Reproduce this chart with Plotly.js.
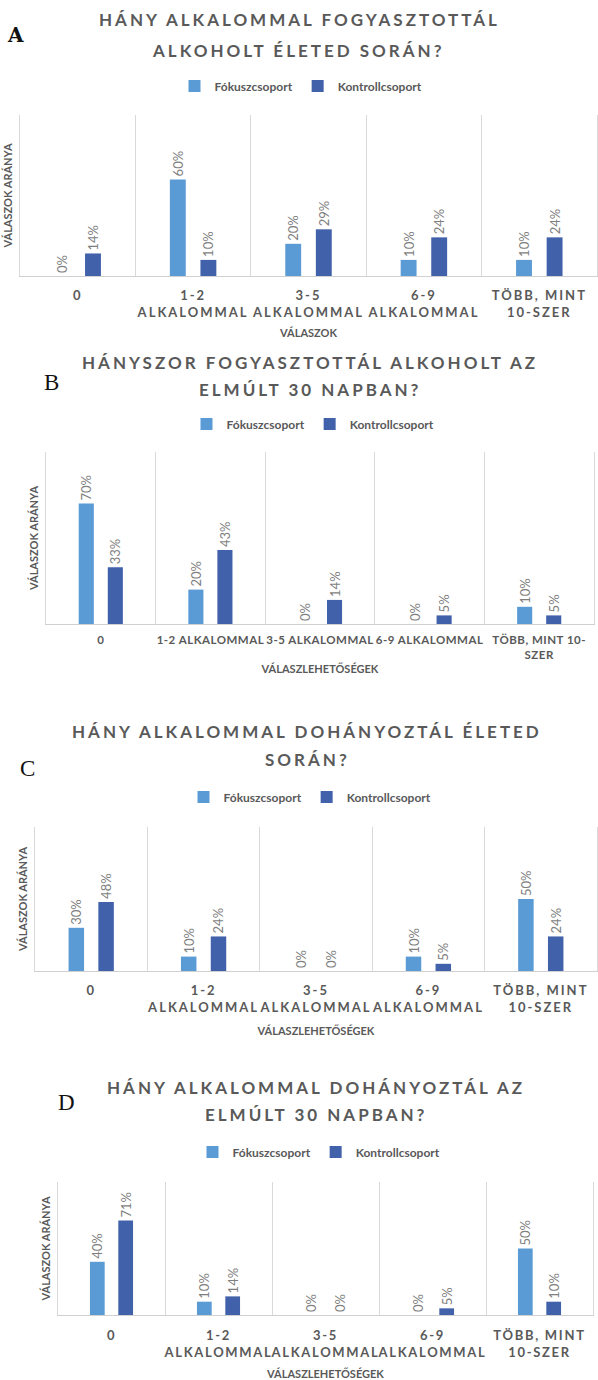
<!DOCTYPE html>
<html>
<head>
<meta charset="utf-8">
<script src="https://cdn.plot.ly/plotly-3.0.1.min.js"></script>
<style>
html,body{margin:0;padding:0;background:#fff;}
#chart{width:598px;height:1380px;}
.xtick text,.x3tick text{letter-spacing:2px;}
.x4tick text{letter-spacing:1.7px;}
.x2tick text{letter-spacing:0.5px;}
.annotation-text{letter-spacing:3px;}
</style>
</head>
<body>
<div id="chart"></div>
<script>
// ---- data ----
const seriesNames = ["Fókuszcsoport", "Kontrollcsoport"];

const catsA = ["0", "1-2<br>ALKALOMMAL", "3-5<br>ALKALOMMAL", "6-9<br>ALKALOMMAL", "TÖBB, MINT<br>10-SZER"];
const fokuszA = [0, 60, 20, 10, 10];
const kontrollA = [14, 10, 29, 24, 24];

const catsB = ["0", "1-2 ALKALOMMAL", "3-5 ALKALOMMAL", "6-9 ALKALOMMAL", "TÖBB, MINT 10-<br>SZER"];
const fokuszB = [70, 20, 0, 0, 10];
const kontrollB = [33, 43, 14, 5, 5];

const catsC = ["0", "1-2<br>ALKALOMMAL", "3-5<br>ALKALOMMAL", "6-9<br>ALKALOMMAL", "TÖBB, MINT<br>10-SZER"];
const fokuszC = [30, 10, 0, 10, 50];
const kontrollC = [48, 24, 0, 5, 24];

const catsD = ["0", "1-2<br>ALKALOMMAL", "3-5<br>ALKALOMMAL", "6-9<br>ALKALOMMAL", "TÖBB, MINT<br>10-SZER"];
const fokuszD = [40, 10, 0, 0, 50];
const kontrollD = [71, 14, 0, 5, 10];

const titlesA = ["HÁNY ALKALOMMAL FOGYASZTOTTÁL", "ALKOHOLT ÉLETED SORÁN?"];
const titlesB = ["HÁNYSZOR FOGYASZTOTTÁL ALKOHOLT AZ", "ELMÚLT 30 NAPBAN?"];
const titlesC = ["HÁNY ALKALOMMAL DOHÁNYOZTÁL ÉLETED", "SORÁN?"];
const titlesD = ["HÁNY ALKALOMMAL DOHÁNYOZTÁL AZ", "ELMÚLT 30 NAPBAN?"];

const xTitles = ["VÁLASZOK", "VÁLASZLEHETŐSÉGEK", "VÁLASZLEHETŐSÉGEK", "VÁLASZLEHETŐSÉGEK"];
const yTitle = "VÁLASZOK ARÁNYA";
const panelLetters = ["A", "B", "C", "D"];

// ---- styling / layout helpers ----
const W = 598, H = 1380;
const fx = p => p / W;
const fy = p => 1 - p / H;
const LIGHT = "#5B9BD5", DARK = "#4161AB";
const GRAY = "#595959";

const panels = [
  {cats: catsA, f: fokuszA, k: kontrollA, titles: titlesA, left: 20, right: 597, top: 115, bottom: 276,
   t1: [299, 20], t2: [298, 50], leg: [301, 86], letter: [17, 35], tick: 13, tstand: 7, xstand: 10},
  {cats: catsB, f: fokuszB, k: kontrollB, titles: titlesB, left: 46, right: 594, top: 452, bottom: 624,
   t1: [310, 363], t2: [310, 390], leg: [313, 424], letter: [53, 382], tick: 11.5, tstand: 5, xstand: 5},
  {cats: catsC, f: fokuszC, k: kontrollC, titles: titlesC, left: 35, right: 597, top: 827, bottom: 971,
   t1: [307, 731], t2: [307, 759], leg: [310, 797], letter: [29, 768], tick: 13, tstand: 7, xstand: 13},
  {cats: catsD, f: fokuszD, k: kontrollD, titles: titlesD, left: 58, right: 593, top: 1182, bottom: 1315,
   t1: [316, 1087], t2: [316, 1114], leg: [319, 1152], letter: [68, 1102], tick: 13, tstand: 8, xstand: 11}
];

const traces = [];
const layout = {
  width: W, height: H,
  margin: {l: 0, r: 0, t: 0, b: 0},
  paper_bgcolor: "#fff", plot_bgcolor: "#fff",
  barmode: "group", bargap: 0.47, bargroupgap: 0.48,
  font: {family: "Lato, 'Open Sans', sans-serif", color: GRAY},
  annotations: [],
  showlegend: true
};

panels.forEach((p, i) => {
  const n = i === 0 ? "" : String(i + 1);
  const xa = "x" + n, ya = "y" + n;
  const legName = "legend" + n;
  [[p.f, LIGHT, 0], [p.k, DARK, 1]].forEach(([vals, col, s]) => {
    traces.push({
      type: "bar", x: p.cats, y: vals, name: seriesNames[s],
      xaxis: xa, yaxis: ya, legend: legName,
      marker: {color: col},
      texttemplate: "%{y}%", textposition: "outside", textangle: -90,
      textfont: {family: "Lato", size: 13, color: "#7f7f7f"},
      constraintext: "none", cliponaxis: false,
      hoverinfo: "x+y"
    });
  });
  layout["xaxis" + n] = {
    domain: [fx(p.left), fx(p.right)], anchor: ya, type: "category",
    tickson: "boundaries", showgrid: true, gridcolor: "#d9d9d9", gridwidth: 1,
    showline: true, linecolor: "#d0d0d0", linewidth: 1,
    ticks: "", tickangle: 0, ticklabelstandoff: p.tstand,
    tickfont: {family: "Lato", size: p.tick, color: GRAY, weight: "bold"},
    title: {text: xTitles[i], standoff: p.xstand, font: {family: "Lato", size: 11, color: GRAY, weight: "bold"}},
    fixedrange: true
  };
  layout["yaxis" + n] = {
    domain: [fy(p.bottom), fy(p.top)], anchor: xa,
    range: [0, 100], showgrid: false, zeroline: false, showticklabels: false, ticks: "",
    showline: true, mirror: true, linecolor: "#d9d9d9", linewidth: 1,
    title: {text: yTitle, standoff: 4, font: {family: "Lato", size: 11, color: GRAY, weight: "bold"}},
    fixedrange: true
  };
  layout[legName] = {
    x: fx(p.leg[0]), y: fy(p.leg[1]), xanchor: "center", yanchor: "middle",
    orientation: "h", bgcolor: "rgba(0,0,0,0)", itemwidth: 30,
    font: {family: "Lato", size: 12, color: GRAY, weight: "bold"}
  };
  layout.annotations.push({
    text: p.titles[0], x: fx(p.t1[0]), y: fy(p.t1[1]), xref: "paper", yref: "paper",
    xanchor: "center", yanchor: "middle", showarrow: false,
    font: {family: "Lato", size: 17, color: GRAY, weight: "bold"}
  });
  layout.annotations.push({
    text: p.titles[1], x: fx(p.t2[0]), y: fy(p.t2[1]), xref: "paper", yref: "paper",
    xanchor: "center", yanchor: "middle", showarrow: false,
    font: {family: "Lato", size: 17, color: GRAY, weight: "bold"}
  });
  layout.annotations.push({
    text: panelLetters[i], x: fx(p.letter[0]), y: fy(p.letter[1]), xref: "paper", yref: "paper",
    xanchor: "center", yanchor: "middle", showarrow: false,
    font: {family: i === 0 ? "DejaVu Serif" : "Liberation Serif", size: i === 0 ? 20 : 23, color: "#111", weight: i === 0 ? "bold" : "normal"}
  });
});

Plotly.newPlot("chart", traces, layout, {displayModeBar: false, staticPlot: true});
</script>
</body>
</html>
